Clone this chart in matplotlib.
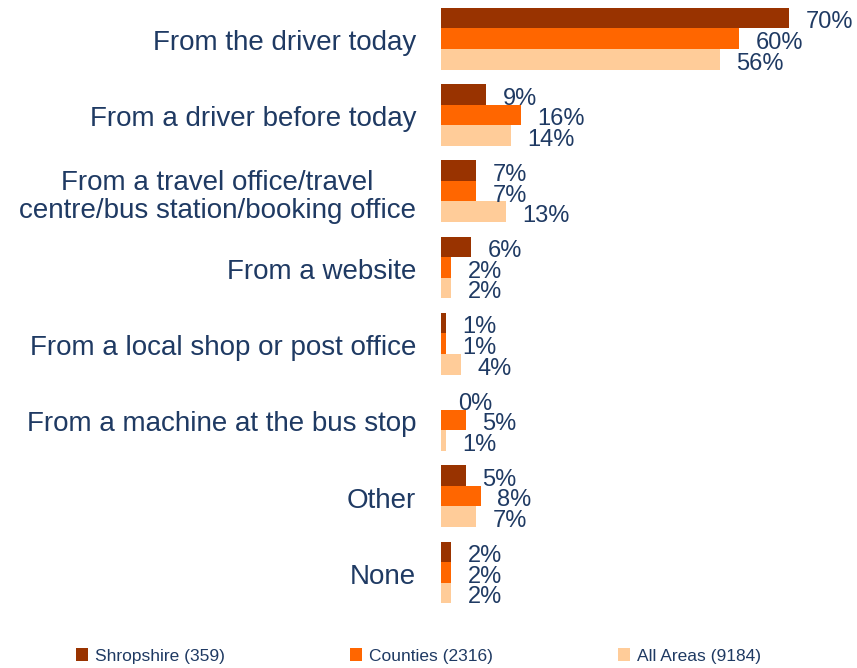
import matplotlib
matplotlib.use("Agg")
import matplotlib.pyplot as plt
import numpy as np

plt.rcParams['font.family'] = ['Liberation Sans', 'DejaVu Sans']

# Categories and values (%)
categories = ["From the driver today",
              "From a driver before today",
              "From a travel office/travel\ncentre/bus station/booking office",
              "From a website",
              "From a local shop or post office",
              "From a machine at the bus stop",
              "Other",
              "None"]
shropshire = [70, 9, 7, 6, 1, 0, 5, 2]
counties = [60, 16, 7, 2, 1, 5, 8, 2]
all_areas = [56, 14, 13, 2, 4, 1, 7, 2]

series_names = ["Shropshire (359)", "Counties (2316)", "All Areas (9184)"]
colors = ['#993300', '#FF6600', '#FFCC99']
text_color = '#1F3A63'

fig = plt.figure(figsize=(8.57, 6.68), dpi=100)
ax = fig.add_axes([0.5146, 0.0838, 0.4643, 0.913])

y = np.arange(len(categories))
bar_h = 0.27
offsets = [-bar_h, 0, bar_h]

handles = []
for vals, off, col, name in zip([shropshire, counties, all_areas], offsets, colors, series_names):
    bars = ax.barh(y + off - 0.02, vals, height=bar_h, color=col, label=name)
    handles.append(bars)
    # value labels to the right of each bar
    for yi, v in zip(y, vals):
        ax.annotate(f"{v}%", xy=(v, yi + off), xytext=(12, -2),
                    textcoords='offset points', ha='left', va='center',
                    fontsize=17, color=text_color)

ax.set_xlim(0, 80)
ax.set_ylim(len(categories) - 0.5, -0.5)
ax.set_yticks(y)
ax.set_yticklabels(categories, fontsize=20, color=text_color)
for lbl in ax.get_yticklabels():
    lbl.set_multialignment('center')
    lbl.set_linespacing(1.1)
ax.tick_params(axis='y', length=0, pad=18)
ax.set_xticks([])
for s in ax.spines.values():
    s.set_visible(False)

fig.legend(handles=handles, labels=series_names, loc='center',
           bbox_to_anchor=(0.488, 0.018), ncol=3, frameon=False,
           fontsize=12.5, handlelength=0.7, handleheight=0.7,
           handletextpad=0.4, columnspacing=7.2, labelcolor=text_color)

fig.savefig("out.png", dpi=100)
